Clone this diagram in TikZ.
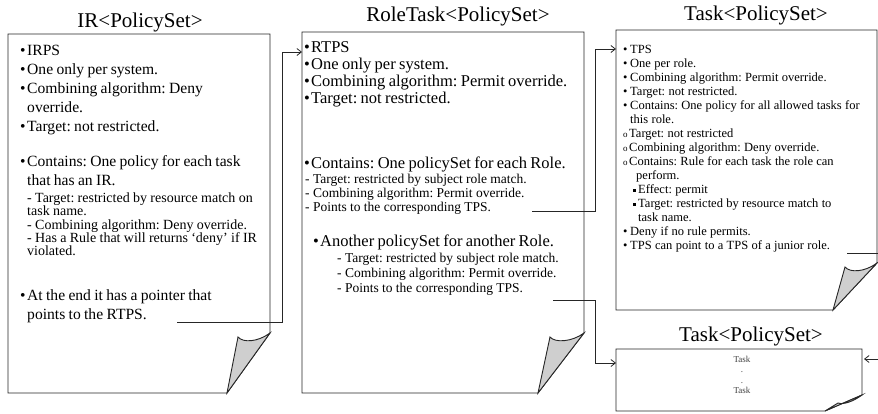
\documentclass[tikz,border=0pt]{standalone}
\usepackage{fontspec}
\setmainfont{Liberation Serif}
\usetikzlibrary{arrows.meta}

\setlength{\parindent}{0pt}
\frenchspacing
\newcommand{\bul}{\makebox[7pt][l]{\textbullet}}
\newcommand{\hop}{\hspace*{7pt}}
\newcommand{\obul}{\makebox[6pt][l]{\fontsize{9}{9}\selectfont o}}
\newcommand{\sqbul}{\hspace*{10pt}\makebox[5pt][l]{\rule[1.5pt]{3pt}{3pt}}}

\tikzset{
  page/.style={draw=black!85, line width=0.9pt, fill=white},
  curl/.style={draw=black!85, line width=0.9pt, fill=black!19},
  title/.style={font=\fontsize{21}{21}\selectfont, inner sep=0pt, anchor=base},
  body/.style={anchor=north west, inner sep=0pt, align=left, text width=#1},
  ptr/.style={draw=black!85, line width=0.8pt, -{Straight Barb[length=4.5pt,width=7pt]}},
}

\begin{document}
\begin{tikzpicture}[x=1pt,y=-1pt]
\useasboundingbox (0,0) rectangle (878,413);

% sheets with a curled corner
\draw[page] (8,34) -- (270,34) -- (270,333) -- (227,393) -- (8,393) -- cycle;
\draw[curl] (270,333) .. controls (258,342) and (243,343) .. (238,337) -- (227,393) -- cycle;

\draw[page] (302,32) -- (584,32) -- (584,333) -- (538,393) -- (302,393) -- cycle;
\draw[curl] (584,333) .. controls (572,342) and (555,343) .. (550,337) -- (538,393) -- cycle;

\draw[page] (616,30) -- (877,30) -- (877,263) -- (833,310) -- (616,310) -- cycle;
\draw[curl] (877,263) .. controls (865,272) and (850,273) .. (845,267) -- (833,310) -- cycle;

\draw[page] (616,349) -- (862,349) -- (862,395) -- (825,411) -- (616,411) -- cycle;
\draw[curl] (862,395) .. controls (854,401) and (844,405) .. (838,403) -- (825,411) -- cycle;

% titles
\node[title] (ir-title) at (140,27) {IR<PolicySet>};
\node[title] (rt-title) at (458,21) {RoleTask<PolicySet>};
\node[title] (tps-title) at (756,20) {Task<PolicySet>};
\node[title] (lst-title) at (751,341) {Task<PolicySet>};

% IRPS
\node[body=250pt] (ir-body) at (20,44.7) {%
  \fontsize{15.6}{19}\selectfont
  \bul IRPS\par
  \bul One only per system.\par
  \bul Combining algorithm: Deny\par
  \hop override.\par
  \bul Target: not restricted.\par
  \vspace{16pt}
  \bul Contains: One policy for each task\par
  \hop that has an IR.\par
  \fontsize{14}{13.3}\selectfont\vspace{4pt}
  \hop - Target: restricted by resource match on\par
  \hop task name.\par
  \hop - Combining algorithm: Deny override.\par
  \hop - Has a Rule that will returns `deny' if IR\par
  \hop violated.\par
  \fontsize{15.6}{19}\selectfont\vspace{26pt}
  \bul At the end it has a pointer that\par
  \hop points to the RTPS.\par};

% RTPS
\node[body=280pt] (rt-body) at (304,41) {%
  \fontsize{16.5}{17}\selectfont
  \bul RTPS\par
  \bul One only per system.\par
  \bul Combining algorithm: Permit override.\par
  \bul Target: not restricted.\par
  \vspace{48pt}
  \bul Contains: One policySet for each Role.\par
  \fontsize{13.5}{14}\selectfont\vspace{1pt}
  \hspace*{1pt}- Target: restricted by subject role match.\par
  \hspace*{1pt}- Combining algorithm: Permit override.\par
  \hspace*{1pt}- Points to the corresponding TPS.\par
  \fontsize{16.5}{17}\selectfont\vspace{18pt}
  \hspace*{9pt}\bul Another policySet for another Role.\par
  \fontsize{13.5}{15}\selectfont\vspace{1pt}
  \hspace*{33pt}- Target: restricted by subject role match.\par
  \hspace*{33pt}- Combining algorithm: Permit override.\par
  \hspace*{33pt}- Points to the corresponding TPS.\par};

% TPS
\node[body=252pt] (tps-body) at (623,44.7) {%
  \fontsize{12.5}{14}\selectfont
  \bul TPS\par
  \bul One per role.\par
  \bul Combining algorithm: Permit override.\par
  \bul Target: not restricted.\par
  \bul Contains: One policy for all allowed tasks for\par
  \hop this role.\par
  \obul Target: not restricted\par
  \obul Combining algorithm: Deny override.\par
  \obul Contains: Rule for each task the role can\par
  \hspace*{13pt}perform.\par
  \sqbul Effect: permit\par
  \sqbul Target: restricted by resource match to\par
  \hspace*{15pt}task name.\par
  \bul Deny if no rule permits.\par
  \bul TPS can point to a TPS of a junior role.\par};

% the other TPS
\node[align=center, inner sep=0pt, text=black!75, font=\fontsize{9}{10.3}\selectfont] (lst-body) at (742,375) {Task\\.\\.\\Task};

% pointers
\coordinate (ir-ptr) at (177,322);
\coordinate (rt-in) at (302,52);
\coordinate (rt-ptr1) at (532,211);
\coordinate (tps-in) at (616,49);
\coordinate (rt-ptr2) at (553,300);
\coordinate (lst-in) at (616,363);
\coordinate (tps-ptr) at (847,253);
\coordinate (lst-back) at (864,359);

\draw[ptr] (ir-ptr) -- ++(105,0) |- (rt-in);
\draw[ptr] (rt-ptr1) -- ++(63,0) |- (tps-in);
\draw[ptr] (rt-ptr2) -- ++(42,0) |- (lst-in);
\draw[ptr] (tps-ptr) -- ++(40,0) |- (lst-back);
\end{tikzpicture}
\end{document}
